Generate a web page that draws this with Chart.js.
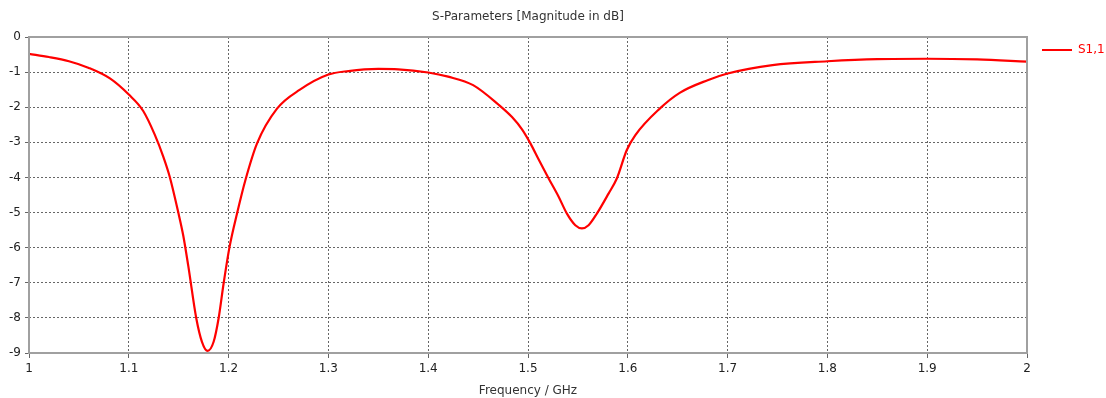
<!DOCTYPE html>
<html>
<head>
<meta charset="utf-8">
<script src="https://cdn.jsdelivr.net/npm/chart.js@4.4.1/dist/chart.umd.min.js"></script>
<style>
html,body{margin:0;padding:0;background:#fff;}
#wrap{width:1106px;height:398px;position:relative;}
</style>
</head>
<body>
<div id="wrap"><canvas id="c" width="1106" height="398"></canvas></div>
<script>
const chartTitle = "S-Parameters [Magnitude in dB]";
const xAxisTitle = "Frequency / GHz";
const seriesName = "S1,1";
const freqGHz = [1.000,1.020,1.040,1.060,1.0811,1.100,1.1143,1.126,1.1347,1.141,1.1496,1.1546,1.1596,1.1676,1.1733,1.179,1.185,1.190,1.195,1.201,1.2085,1.2168,1.2285,1.2485,1.2715,1.300,1.320,1.350,1.370,1.400,1.420,1.445,1.4706,1.484,1.494,1.5024,1.5107,1.5207,1.5307,1.539,1.5474,1.554,1.5607,1.569,1.5807,1.589,1.599,1.6074,1.632,1.652,1.680,1.700,1.745,1.800,1.850,1.900,1.950,2.000];
const s11dB = [-0.48,-0.57,-0.69,-0.88,-1.18,-1.64,-2.10,-2.78,-3.42,-3.98,-5.00,-5.66,-6.52,-8.01,-8.68,-8.94,-8.68,-8.01,-7.02,-5.97,-5.02,-4.08,-3.03,-2.04,-1.50,-1.07,-0.97,-0.91,-0.92,-1.01,-1.13,-1.37,-1.93,-2.28,-2.63,-3.03,-3.49,-4.03,-4.55,-5.03,-5.36,-5.45,-5.36,-5.03,-4.46,-4.03,-3.22,-2.80,-2.04,-1.59,-1.23,-1.04,-0.80,-0.69,-0.63,-0.62,-0.64,-0.70];
const xTicks = [1,1.1,1.2,1.3,1.4,1.5,1.6,1.7,1.8,1.9,2];
const yTicks = [0,-1,-2,-3,-4,-5,-6,-7,-8,-9];

const FONT = "'DejaVu Sans', Verdana, sans-serif";
const points = freqGHz.map((f,i)=>({x:f,y:s11dB[i]}));

const framePlugin = {
  id:'frame',
  afterDraw(chart){
    const {ctx, chartArea:a} = chart;
    ctx.save();
    ctx.strokeStyle = '#a0a0a0';
    ctx.lineWidth = 2;
    ctx.strokeRect(a.left, a.top, a.right-a.left, a.bottom-a.top);
    ctx.fillStyle = '#333';
    ctx.font = "12px " + FONT;
    ctx.textAlign = 'center';
    ctx.textBaseline = 'middle';
    ctx.fillText(chartTitle, (a.left+a.right)/2, 17);
    const ds = chart.data.datasets[0];
    const ly = a.top + 13;
    ctx.strokeStyle = ds.borderColor;
    ctx.lineWidth = 2;
    ctx.beginPath();
    ctx.moveTo(a.right+15, ly); ctx.lineTo(a.right+45, ly);
    ctx.stroke();
    ctx.fillStyle = ds.borderColor;
    ctx.font = "12px " + FONT;
    ctx.textAlign = 'left';
    ctx.fillText(ds.label, a.right+51, ly);
    ctx.restore();
  }
};

new Chart(document.getElementById('c'), {
  type:'line',
  data:{datasets:[{label:seriesName,data:points,borderColor:'#ff0000',borderWidth:2.2,pointRadius:0,cubicInterpolationMode:'monotone',fill:false}]},
  options:{
    responsive:false,animation:false,
    layout:{padding:{top:37,right:79,left:0,bottom:0}},
    plugins:{legend:{display:false},title:{display:false},tooltip:{enabled:false}},
    scales:{
      x:{type:'linear',min:1,max:2,
        afterBuildTicks(s){s.ticks = xTicks.map(v=>({value:v}));},
        afterFit(s){s.height = 45;},
        grid:{color:'#666',lineWidth:1,tickLength:5,tickColor:'#666'},
        border:{display:false,dash:[2,2]},
        ticks:{color:'#222',font:{family:FONT,size:12},padding:4,maxRotation:0,callback:v=>String(Math.round(v*10)/10)},
        title:{display:true,text:xAxisTitle,color:'#333',font:{family:FONT,size:12},padding:{top:1,bottom:0}}
      },
      y:{type:'linear',min:-9,max:0,
        afterBuildTicks(s){s.ticks = yTicks.map(v=>({value:v}));},
        afterFit(s){s.width = 29;},
        grid:{color:'#666',lineWidth:1,tickLength:4,tickColor:'#666'},
        border:{display:false,dash:[2,2]},
        ticks:{color:'#222',font:{family:FONT,size:12},padding:4,callback:v=>String(v)}
      }
    }
  },
  plugins:[framePlugin]
});
</script>
</body>
</html>
